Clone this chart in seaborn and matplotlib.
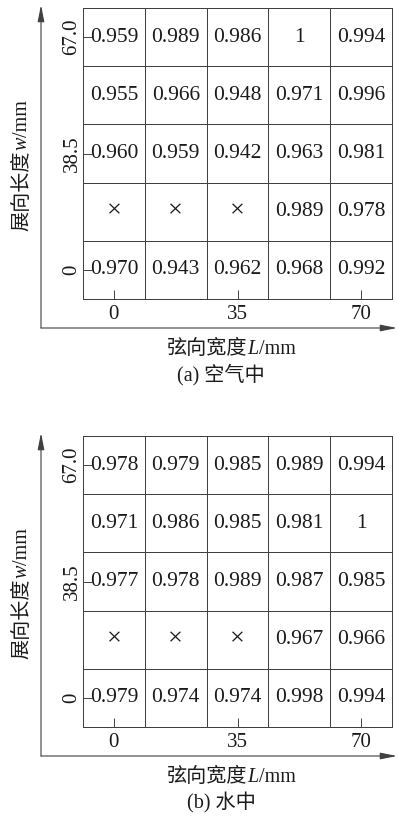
import numpy as np
import seaborn as sns
import matplotlib.pyplot as plt
from matplotlib.colors import ListedColormap
from matplotlib.patches import FancyArrowPatch

sns.set_theme(style="white")
plt.rcParams["font.family"] = ["Liberation Serif", "Noto Sans CJK SC"]

# Tick labels of the two measurement axes
chord_ticks = ["0", "35", "70"]        # 弦向宽度 L/mm
span_ticks = ["67.0", "38.5", "0"]     # 展向长度 w/mm (top to bottom)

# Normalised values, rows from top (w = 67.0) to bottom (w = 0); None = no sensor (×)
air = [
    [0.959, 0.989, 0.986, 1, 0.994],
    [0.955, 0.966, 0.948, 0.971, 0.996],
    [0.960, 0.959, 0.942, 0.963, 0.981],
    [None, None, None, 0.989, 0.978],
    [0.970, 0.943, 0.962, 0.968, 0.992],
]
water = [
    [0.978, 0.979, 0.985, 0.989, 0.994],
    [0.971, 0.986, 0.985, 0.981, 1],
    [0.977, 0.978, 0.989, 0.987, 0.985],
    [None, None, None, 0.967, 0.966],
    [0.979, 0.974, 0.974, 0.998, 0.994],
]
captions = ["(a) 空气中", "(b) 水中"]

W, H = 398, 819
INK = "#1a1a1a"
LINE = "#404040"


def fx(x):
    return x / W


def fy(y):
    return 1 - y / H


def cell_text(v):
    if v is None:
        return "×"
    if v == 1:
        return "1"
    return f"{v:.3f}"


def chain(fig, pieces, start, rotate=False, size=14.5):
    """Write a label made of differently styled pieces, one after another."""
    prev = None
    for text, kw in pieces:
        common = dict(fontsize=size, color=INK, **kw)
        if rotate:
            common.update(rotation=90, rotation_mode="anchor", ha="left", va="baseline")
        else:
            common.update(ha="left", va="baseline")
        if prev is None:
            t = fig.text(fx(start[0]), fy(start[1]), text, **common)
        elif rotate:
            t = fig.add_artist(plt.Annotation(text, xy=(fx(start[0]), 1),
                                              xycoords=("figure fraction", prev),
                                              annotation_clip=False, **common))
        else:
            t = fig.add_artist(plt.Annotation(text, xy=(1, fy(start[1])),
                                              xycoords=(prev, "figure fraction"),
                                              annotation_clip=False, **common))
        prev = t


def arrow(fig, p0, p1):
    fig.add_artist(FancyArrowPatch(
        (fx(p0[0]), fy(p0[1])), (fx(p1[0]), fy(p1[1])),
        transform=fig.transFigure, arrowstyle="-|>,head_length=1.0,head_width=0.2",
        mutation_scale=10, shrinkA=0, shrinkB=0, lw=0.8, color=LINE))


fig = plt.figure(figsize=(W / 100, H / 100), dpi=100)

for values, caption, dy in zip([air, water], captions, [0, 428]):
    vals = np.array([[np.nan if v is None else v for v in row] for row in values], dtype=float)
    labels = np.array([[cell_text(v) for v in row] for row in values])
    shade = np.nan_to_num(vals, nan=0.0)  # white background for every cell

    left, right, top, bottom = 83, 392, 8 + dy, 299 + dy
    ax = fig.add_axes([fx(left), fy(bottom), fx(right) - fx(left), (bottom - top) / H])
    sns.heatmap(shade, ax=ax, cmap=ListedColormap(["white"]), cbar=False,
                linewidths=0.7, linecolor=LINE, annot=labels, fmt="",
                annot_kws=dict(fontsize=15.5, color=INK, family="Liberation Serif"))
    ax.collections[0].set_clip_on(False)
    ax.set_axisbelow(False)
    for t in ax.texts:
        if t.get_text() == "×":
            t.set_fontsize(19)
            t.set_fontweight("light")

    ax.set_xticks([0.5, 2.5, 4.5])
    ax.set_xticklabels(chord_ticks, rotation=0)
    ax.set_yticks([0.5, 2.5, 4.5])
    ax.set_yticklabels(span_ticks, rotation=90, va="center")
    ax.tick_params(axis="both", direction="in", length=6.5, width=0.7, color=LINE,
                   labelsize=15, labelcolor=INK, bottom=True, left=True)
    ax.tick_params(axis="x", pad=4.0)
    ax.tick_params(axis="y", pad=1.0)
    for lab in ax.get_xticklabels() + ax.get_yticklabels():
        lab.set_family("Liberation Serif")
    ax.set_xlabel("")
    ax.set_ylabel("")

    # outer coordinate axes with arrow heads
    arrow(fig, (41, 328 + dy), (41, 5 + dy))
    arrow(fig, (41, 328 + dy), (397, 328 + dy))

    chain(fig, [("弦向宽度", dict(family="Noto Sans CJK SC")),
                ("L", dict(family="Liberation Serif", style="italic")),
                ("/mm", dict(family="Liberation Serif"))],
          start=(167, 354 + dy))
    chain(fig, [("展向长度", dict(family="Noto Sans CJK SC")),
                ("w", dict(family="Liberation Serif", style="italic")),
                ("/mm", dict(family="Liberation Serif"))],
          start=(27, 231 + dy), rotate=True)

    fig.text(fx(221), fy(375 + dy), caption, ha="center", va="center",
             fontsize=14.5, color=INK, family=["Liberation Serif", "Noto Sans CJK SC"])

fig.savefig("out.png", dpi=100)
